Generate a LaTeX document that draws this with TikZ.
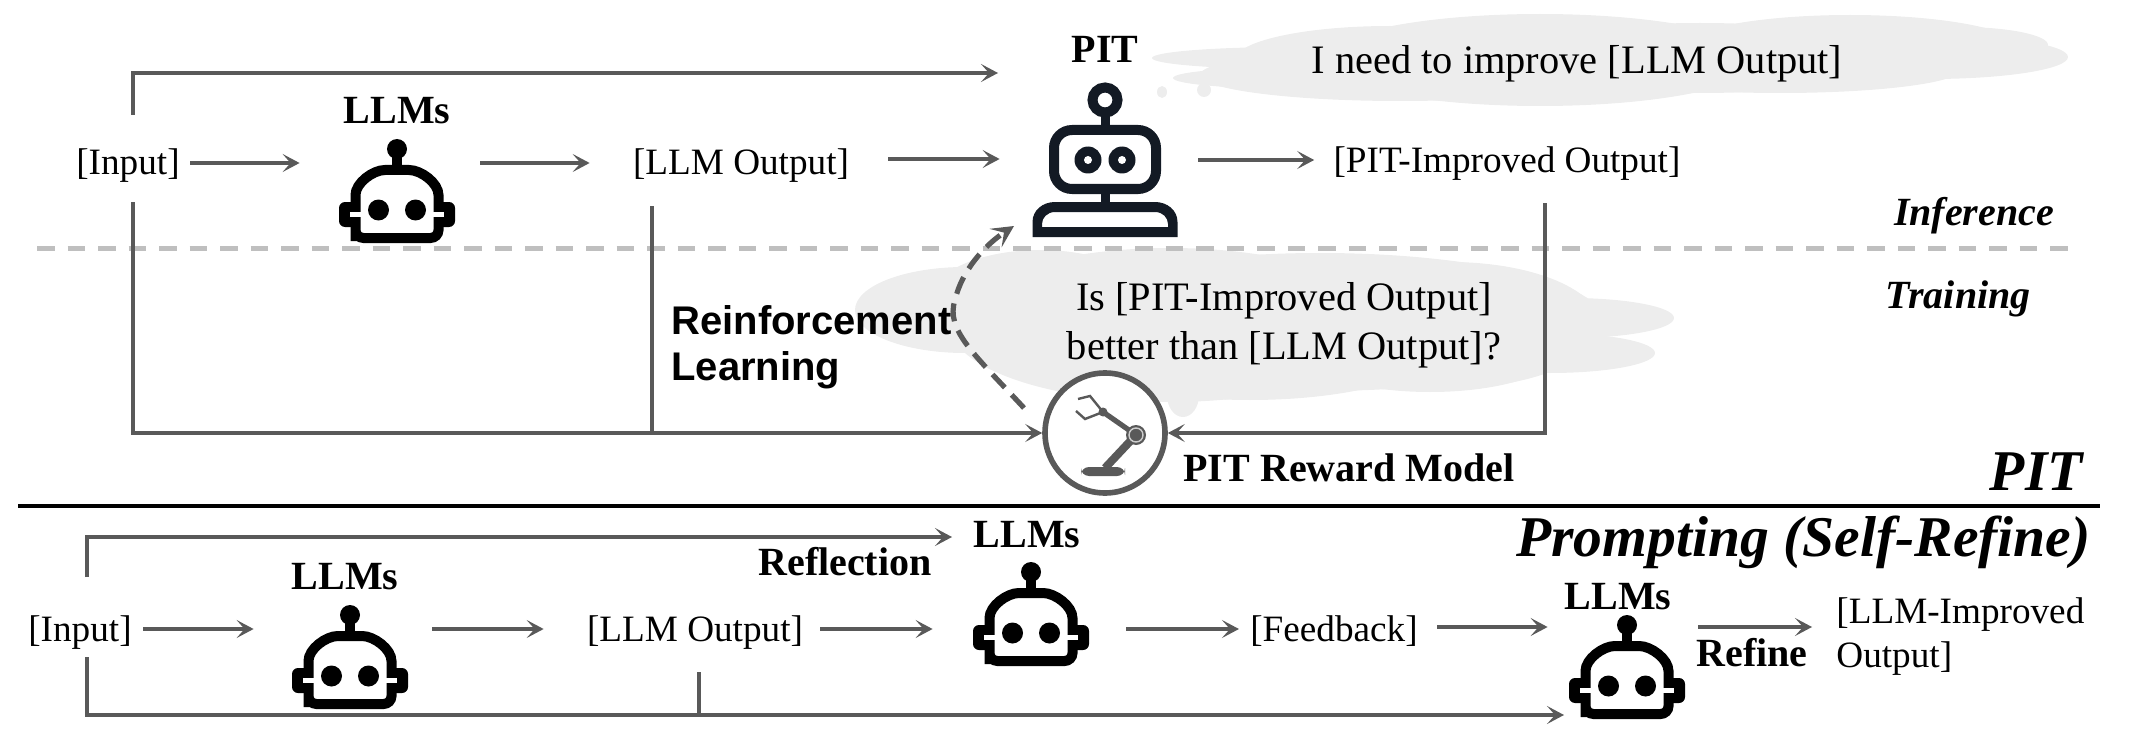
\documentclass[tikz,border=0pt]{standalone}
\usepackage{fontspec}
\setmainfont{Liberation Serif}
\newfontfamily\armfont{Liberation Sans}
\usetikzlibrary{arrows.meta}
\definecolor{linegray}{HTML}{595959}
\definecolor{cloudgray}{HTML}{EDEDED}
\definecolor{dashgray}{HTML}{BFBFBF}
\definecolor{navy}{HTML}{131A24}
\tikzset{
  x=0.5pt,y=-0.5pt,
  tip/.style={-{Stealth[length=8.5pt,width=9pt,inset=4pt]}},
  conn/.style={draw=linegray,line width=2pt},
  arr/.style={conn,tip},
  txt/.style={inner sep=0pt,font=\fontsize{18.6}{22}\selectfont,text height=13.5pt,text depth=1.5pt},
  big/.style={txt,font=\fontsize{20.2}{24}\selectfont},
  bold/.style={inner sep=0pt,font=\fontsize{20}{24}\selectfont\bfseries,text height=13.5pt,text depth=0.5pt},
  side/.style={bold,font=\fontsize{20}{24}\selectfont\bfseries\itshape},
  title/.style={inner sep=0pt,font=\fontsize{28.8}{34}\selectfont\bfseries\itshape,text height=19pt,text depth=0pt},
  armtxt/.style={anchor=west,inner sep=0pt,font=\armfont\fontsize{20}{24}\selectfont\bfseries},
  slot/.style={inner sep=0pt,minimum width=57.5pt,minimum height=52pt},
  puff/.style={fill=cloudgray,draw=none},
  llmrobot/.pic={
    \fill[black] (0,-42) circle[radius=10];
    \fill[black] (-5,-36) rectangle (5,-20);
    \fill[black,rounded corners=3pt] (-58,11) rectangle (58,36);
    \draw[black,line width=5pt,rounded corners=4pt,fill=white]
      (-41.5,42) -- (-41.5,12) .. controls (-41.5,-8) and (-24,-21) .. (-4,-21)
      -- (4,-21) .. controls (24,-21) and (41.5,-8) .. (41.5,12) -- (41.5,47) -- (-41.5,47) -- cycle;
    \fill[white] (-47,21) rectangle (-36,26);
    \fill[white] (36,21) rectangle (47,26);
    \fill[black] (-18.5,19) circle[radius=10.5];
    \fill[black] (18.5,19) circle[radius=10.5];
  },
  pitrobot/.pic={
    \draw[navy,line width=5pt] (0,-68) circle[radius=12.5];
    \fill[navy] (-4.5,-57) rectangle (4.5,-40);
    \draw[navy,line width=5pt,fill=white,rounded corners=9pt] (-51,-38) rectangle (51,21);
    \fill[navy] (-4.5,24) rectangle (4.5,36);
    \fill[navy,even odd rule]
      (-72.5,69) -- (-72.5,54) .. controls (-72.5,42) and (-62,34) .. (-50,34) -- (50,34) .. controls (62,34) and (72.5,42) .. (72.5,54) -- (72.5,69) -- cycle
      (-63,59) -- (-63,56) .. controls (-63,50) and (-58,44) .. (-50,44) -- (50,44) .. controls (58,44) and (63,50) .. (63,56) -- (63,59) -- cycle;
    \foreach \s in {-1,1}{
      \fill[navy] (\s*17,-8) circle[radius=13.5];
      \fill[white] (\s*17,-8) circle[radius=4];
    }
  },
  armicon/.pic={
    \fill[linegray,rounded corners=4pt] (-24,34) rectangle (20,43);
    \draw[linegray,line width=4pt] (0,35) -- (31,2);
    \draw[linegray,line width=2.6pt] (31,2) -- (-2,-21);
    \fill[linegray] (31,2) circle[radius=10];
    \draw[white!70!linegray,line width=0.7pt] (31,2) circle[radius=7];
    \fill[linegray] (-2,-21) circle[radius=4.5];
    \draw[linegray,line width=1.2pt] (-2,-21) -- (-15,-37) -- (-27,-34);
    \draw[linegray,line width=1.2pt] (-2,-21) -- (-20,-14) -- (-29,-22);
  },
}
\begin{document}
\begin{tikzpicture}
\useasboundingbox (0,0) rectangle (2132,738);
% clouds
\foreach \cx/\cy/\rx/\ry in {1290/58/138/11,1300/78/127/11,1390/60/155/34,1540/60/220/46,1850/48/170/33,1960/45/88/18,1930/57/138/22,1780/70/180/23,1400/75/200/26,1700/58/200/35}{
  \fill[puff] (\cx,\cy) ellipse[x radius=\rx,y radius=\ry];
}
\fill[puff] (1162,92) ellipse[x radius=5,y radius=6];
\fill[puff] (1204,90) ellipse[x radius=7,y radius=7];
\foreach \cx/\cy/\rx/\ry in {965/310/110/43,1040/300/110/50,1170/325/220/77,1320/322/285/69,1450/325/150/63,1570/318/104/20,1550/353/105/20,1183/395/16/22,1250/345/190/55,1430/350/130/42}{
  \fill[puff] (\cx,\cy) ellipse[x radius=\rx,y radius=\ry];
}
% separators
\draw[dashgray,line width=2.5pt,dash pattern=on 8.75pt off 6.5pt] (37,248) -- (2078,248);
\draw[black,line width=2.4pt] (18,506) -- (2100,506);
% slots of the robots
\node[slot] (llmA) at (397,191) {};
\node[slot,minimum height=70pt] (pit) at (1105,168) {};
\node[slot] (llmB) at (350,657) {};
\node[slot] (llmC) at (1031,614) {};
\node[slot] (llmD) at (1627,667) {};
\pic at (llmA) {llmrobot};
\pic at (pit) {pitrobot};
\pic at (llmB) {llmrobot};
\pic at (llmC) {llmrobot};
\pic at (llmD) {llmrobot};
\node[draw=linegray,line width=2.8pt,circle,fill=white,minimum size=60pt,inner sep=0pt] (reward) at (1105,433) {};
\pic at (reward) {armicon};
% texts upper
\node[txt] (inA) at (128,163) {[Input]};
\node[bold] (lblA) at (397,111) {LLMs};
\node[txt] (outA) at (741,163) {[LLM Output]};
\node[bold] (lblP) at (1105,50) {PIT};
\node[txt] (impr) at (1507,160) {[PIT-Improved Output]};
\node[big] (think) at (1577,62) {I need to improve [LLM Output]};
\node[side] (inf) at (1974,213) {Inference};
\node[side] (trn) at (1958,295) {Training};
\node[armtxt] (rlA) at (671,320) {Reinforcement};
\node[armtxt] (rlB) at (671,370) {Learning};
\node[big] (askA) at (1284,298) {Is [PIT-Improved Output]};
\node[big] (askB) at (1284,347) {better than [LLM Output]?};
\node[bold] (rewl) at (1349,468) {PIT Reward Model};
\node[title,anchor=east] (ttlA) at (2083,471) {PIT};
\node[title,anchor=east] (ttlB) at (2091,537) {Prompting (Self-Refine)};
% texts lower
\node[txt] (inB) at (80,629) {[Input]};
\node[bold] (lblB) at (345,576) {LLMs};
\node[txt] (outB) at (695,629) {[LLM Output]};
\node[bold] (refl) at (845,562) {Reflection};
\node[bold] (lblC) at (1027,534) {LLMs};
\node[txt] (feed) at (1334,629) {[Feedback]};
\node[bold] (lblD) at (1618,596) {LLMs};
\node[bold] (refn) at (1752,653) {Refine};
\node[txt,anchor=west] (finA) at (1836,611) {[LLM-Improved};
\node[txt,anchor=west] (finB) at (1836,655) {Output]};
% free ends
\coordinate (a) at (133,115);
\coordinate (b) at (998,73);
\coordinate (c) at (133,202);
\coordinate (d) at (652,206);
\coordinate (e) at (1545,203);
\coordinate (f) at (87,577);
\coordinate (g) at (952,537);
\coordinate (h) at (87,657);
\coordinate (i) at (1564,715);
\coordinate (j) at (699,672);
\coordinate (k) at (1698,627);
\coordinate (m) at (1024,408);
\coordinate (n) at (955,300);
\coordinate (o) at (1014,226);
% connectors upper
\draw[arr] (a) |- (b);
\draw[arr,shorten <=5pt,shorten >=19.75pt] (inA.east) -- (inA.east -| llmA.west);
\draw[arr,shorten <=12.75pt,shorten >=21.5pt] (outA.west -| llmA.east) -- (outA.west);
\draw[arr,shorten <=19.5pt,shorten >=23.75pt] ([yshift=2pt]outA.east) -- ([yshift=2pt]outA.east -| pit.west);
\draw[arr,shorten <=17.75pt,shorten >=9.5pt] (impr.west -| pit.east) -- (impr.west);
\draw[arr] (c) |- (reward.west);
\draw[conn] (d) -- (d |- reward.west);
\draw[arr] (e) |- (reward.east);
\draw[conn,-{Stealth[length=11pt,width=11pt,inset=5pt]},dash pattern=on 9pt off 5pt,line width=2.6pt]
  (m) .. controls (975,355) and (945,330) .. (n) .. controls (962,270) and (985,245) .. (o);
% connectors lower
\draw[arr] (f) |- (g);
\draw[arr,shorten <=5.5pt,shorten >=19.25pt] (inB.east) -- (inB.east -| llmB.west);
\draw[arr,shorten <=12.25pt,shorten >=21.5pt] (outB.west -| llmB.east) -- (outB.west);
\draw[arr,shorten <=8.5pt,shorten >=20.25pt] (outB.east) -- (outB.east -| llmC.west);
\draw[arr,shorten <=18.75pt,shorten >=5.5pt] (feed.west -| llmC.east) -- (feed.west);
\draw[arr,shorten <=9.5pt,shorten >=10.75pt] ([yshift=1pt]feed.east) -- ([yshift=1pt]feed.east -| llmD.west);
\draw[arr,shorten >=12pt] (k) -- (k -| finA.west);
\draw[arr] (h) |- (i);
\draw[conn] (j) -- (j |- i);
\end{tikzpicture}
\end{document}
